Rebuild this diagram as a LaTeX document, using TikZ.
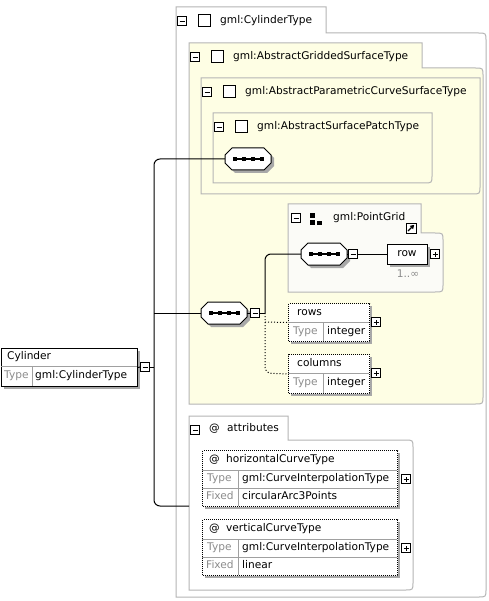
\documentclass[tikz,border=0pt]{standalone}
\usepackage{fontspec}
\setmainfont{DejaVu Sans}
\usetikzlibrary{arrows.meta}
\definecolor{boxgray}{HTML}{B5B5B5}
\definecolor{ylw}{HTML}{FEFEE4}
\definecolor{pgfillc}{HTML}{FBFBF7}
\definecolor{shadowc}{HTML}{A8A8A8}
\definecolor{lbl}{HTML}{8C8C8C}
\definecolor{divc}{HTML}{A0A0A0}
\tikzset{
  txt/.style={inner sep=0pt, anchor=west, font=\fontsize{10.6}{12}\selectfont, text height=7.5pt, text depth=2pt},
  lbltxt/.style={txt, text=lbl},
  frame/.style={draw=boxgray, line width=1pt},
  pmbox/.style={draw=black, fill=white, minimum size=9pt, inner sep=0pt, line width=0.8pt},
  sqicon/.style={draw=black, fill=white, minimum size=12pt, inner sep=0pt, line width=1pt},
  elembox/.style={draw=black, fill=white, line width=1pt, inner sep=0pt},
  optbox/.style={draw=black, fill=white, line width=1pt, inner sep=0pt, dash pattern=on 1pt off 1pt},
  seqn/.style={inner sep=0pt, minimum width=46pt, minimum height=22pt},
  conn/.style={draw=black, line width=1pt},
  dotconn/.style={draw=black, line width=1pt, dash pattern=on 1pt off 2pt},
  divline/.style={draw=divc, line width=1pt}
}
\newcommand\minusb[3]{\node[pmbox] (#1) at (#2,#3) {};
  \draw[line width=0.8pt] ([xshift=-2.5pt]#1.center) -- ([xshift=2.5pt]#1.center);}
\newcommand\plusb[3]{\minusb{#1}{#2}{#3}%
  \draw[line width=0.8pt] ([yshift=-2.5pt]#1.center) -- ([yshift=2.5pt]#1.center);}
\newcommand\seqc[3]{%
  \begin{scope}[shift={(#2,#3)}]
    \fill[shadowc] (-13,-8) -- (19,-8) -- (26,-1) -- (26,7) -- (19,14) -- (-13,14) -- (-20,7) -- (-20,-1) -- cycle;
    \draw[fill=white, line width=1pt] (-16,-11) -- (16,-11) -- (23,-4) -- (23,4) -- (16,11) -- (-16,11) -- (-23,4) -- (-23,-4) -- cycle;
    \draw[line width=1.3pt] (-13.5,0) -- (13.5,0);
    \foreach \d in {-13.5,-4.5,4.5,13.5} \fill (\d-2,-2) rectangle (\d+2,2);
  \end{scope}
  \node[seqn] (#1) at (#2,#3) {};}
\begin{document}
\begin{tikzpicture}[x=1pt,y=-1pt]
\useasboundingbox (0,0) rectangle (488,601);
\fill[white] (0,0) rectangle (488,601);
% ---- frames ----
\draw[frame, fill=white] (176,7) -- (326,7) -- (326,33) -- (478,33) .. controls (486,33) .. (486,41) -- (486,589) .. controls (486,597) .. (478,597) -- (176,597) -- cycle;
\draw[frame, fill=ylw] (189,43) -- (422,43) -- (422,68) -- (475,68) .. controls (483,68) .. (483,76) -- (483,396) .. controls (483,404) .. (475,404) -- (189,404) -- cycle;
\draw[frame, fill=ylw] (201,78) -- (480,78) -- (480,186) .. controls (480,194) .. (472,194) -- (201,194) -- cycle;
\draw[frame, fill=ylw] (213,113) -- (432,113) -- (432,175) .. controls (432,183) .. (424,183) -- (213,183) -- cycle;
\draw[frame, fill=pgfillc] (288,204) -- (421,204) -- (421,233) -- (435,233) .. controls (443,233) .. (443,241) -- (443,284) .. controls (443,292) .. (435,292) -- (288,292) -- cycle;
\draw[frame, fill=white] (189,416) -- (288,416) -- (288,440) -- (405,440) .. controls (413,440) .. (413,448) -- (413,582) .. controls (413,590) .. (405,590) -- (189,590) -- cycle;
% ---- frame titles ----
\minusb{mcyl}{182}{21} \node[sqicon] (scyl) at (204,21) {};
\node[txt] (tcyl) at (220,21) {gml:CylinderType};
\minusb{mgrid}{195}{57} \node[sqicon] (sgrid) at (217,57) {};
\node[txt] (tgrid) at (233,57) {gml:AbstractGriddedSurfaceType};
\minusb{mpar}{207}{92} \node[sqicon] (spar) at (229,92) {};
\node[txt] (tpar) at (245,92) {gml:AbstractParametricCurveSurfaceType};
\minusb{mpat}{219}{127} \node[sqicon] (spat) at (241,127) {};
\node[txt] (tpat) at (257,127) {gml:AbstractSurfacePatchType};
\minusb{mpg}{296}{218}
\fill (310,213) rectangle (315,218);
\fill (310,220) rectangle (315,225);
\fill (317,221) rectangle (322,225);
\node[txt] (tpg) at (333,218) {gml:PointGrid};
\node[draw=black, fill=white, line width=0.8pt, minimum size=10pt, inner sep=0pt] (link) at (411,228) {};
\draw[line width=1.4pt, -{Triangle[length=4pt,width=4.5pt]}] ([shift={(-3pt,-3pt)}]link.center) -- ([shift={(3.2pt,3.2pt)}]link.center);
\minusb{mattr}{195}{430}
\node[txt] (tat) at (209,429) {@};
\node[txt] (tattr) at (227,429) {attributes};
% ---- Cylinder element ----
\fill[shadowc] (4,351) rectangle (140,389);
\node[elembox, minimum width=136pt, minimum height=38pt, anchor=north west] (cyl) at (1,348) {};
\draw[divline] (1,366) -- (137,366);
\draw[divline] (32,366) -- (32,386);
\node[txt] at (7,357) {Cylinder};
\node[lbltxt] at (4,376) {Type};
\node[txt] at (35,376) {gml:CylinderType};
\minusb{cylm}{145}{367}
% ---- compositors ----
\seqc{seqtop}{248}{159}
\seqc{seqmain}{224}{313}
\minusb{seqmm}{255}{313}
\seqc{seqpg}{324}{254}
\minusb{seqpgm}{353}{254}
% ---- row ----
\fill[shadowc] (390,247) rectangle (430,267);
\node[elembox, minimum width=40pt, minimum height=20pt, font=\fontsize{10.6}{12}\selectfont] (row) at (407,254) {row};
\plusb{rowp}{435}{254}
\node[lbltxt, anchor=center] at (408,275) {1..∞};
% ---- rows / columns ----
\fill[shadowc] (291,306) rectangle (372,344);
\node[optbox, minimum width=81pt, minimum height=38pt, anchor=north west] (rows) at (288,303) {};
\draw[divline] (288,322) -- (369,322);
\draw[divline] (323,322) -- (323,341);
\node[txt] at (297,313) {rows};
\node[lbltxt] at (293,332) {Type};
\node[txt] at (327,332) {integer};
\plusb{rowsp}{376}{322}
\fill[shadowc] (291,357) rectangle (372,396);
\node[optbox, minimum width=81pt, minimum height=39pt, anchor=north west] (cols) at (288,354) {};
\draw[divline] (288,373) -- (369,373);
\draw[divline] (323,373) -- (323,393);
\node[txt] at (297,364) {columns};
\node[lbltxt] at (293,383) {Type};
\node[txt] at (327,383) {integer};
\plusb{colsp}{376}{373}
% ---- attributes ----
\fill[shadowc] (205,453) rectangle (400,509);
\node[optbox, minimum width=195pt, minimum height=56pt, anchor=north west] (hct) at (202,450) {};
\draw[divline] (202,470) -- (397,470);
\draw[divline] (202,488) -- (397,488);
\draw[divline] (238,470) -- (238,506);
\node[txt] at (209,460) {@};
\node[txt] at (226,460) {horizontalCurveType};
\node[lbltxt] at (207,479) {Type};
\node[txt] at (242,479) {gml:CurveInterpolationType};
\node[lbltxt] at (206,497) {Fixed};
\node[txt] at (242,497) {circularArc3Points};
\plusb{hctp}{406}{479}
\fill[shadowc] (205,522) rectangle (400,578);
\node[optbox, minimum width=195pt, minimum height=56pt, anchor=north west] (vct) at (202,519) {};
\draw[divline] (202,539) -- (397,539);
\draw[divline] (202,557) -- (397,557);
\draw[divline] (238,539) -- (238,575);
\node[txt] at (209,529) {@};
\node[txt] at (226,529) {verticalCurveType};
\node[lbltxt] at (207,548) {Type};
\node[txt] at (242,548) {gml:CurveInterpolationType};
\node[lbltxt] at (206,566) {Fixed};
\node[txt] at (242,566) {linear};
\plusb{vctp}{406}{548}
% ---- connectors ----
\coordinate (sptop) at (154,159);
\coordinate (spmid) at (154,367);
\coordinate (spseq) at (154,313);
\coordinate (spbot) at (154,506);
\coordinate (attrin) at (189,506);
\coordinate (br) at (265,313);
\coordinate (brrows) at (265,322);
\draw[conn] (cyl.east) -- (cylm.west);
\draw[conn] (cylm.east) -- (spmid);
\draw[conn, rounded corners=6pt] (seqtop.west) -- (sptop) -- (spbot) -- (attrin);
\draw[conn] (seqmain.west) -- (spseq);
\draw[conn] (seqmain.east) -- (seqmm.west);
\draw[conn] (seqmm.east) -- (br);
\draw[conn, rounded corners=6pt] (br) -- (265,254) -- (seqpg.west);
\draw[dotconn, rounded corners=6pt] (br) -- (265,373) -- (cols.west);
\draw[dotconn] (brrows) -- (rows.west);
\draw[conn] (seqpg.east) -- (seqpgm.west);
\draw[conn] (seqpgm.east) -- (row.west);
\end{tikzpicture}
\end{document}
